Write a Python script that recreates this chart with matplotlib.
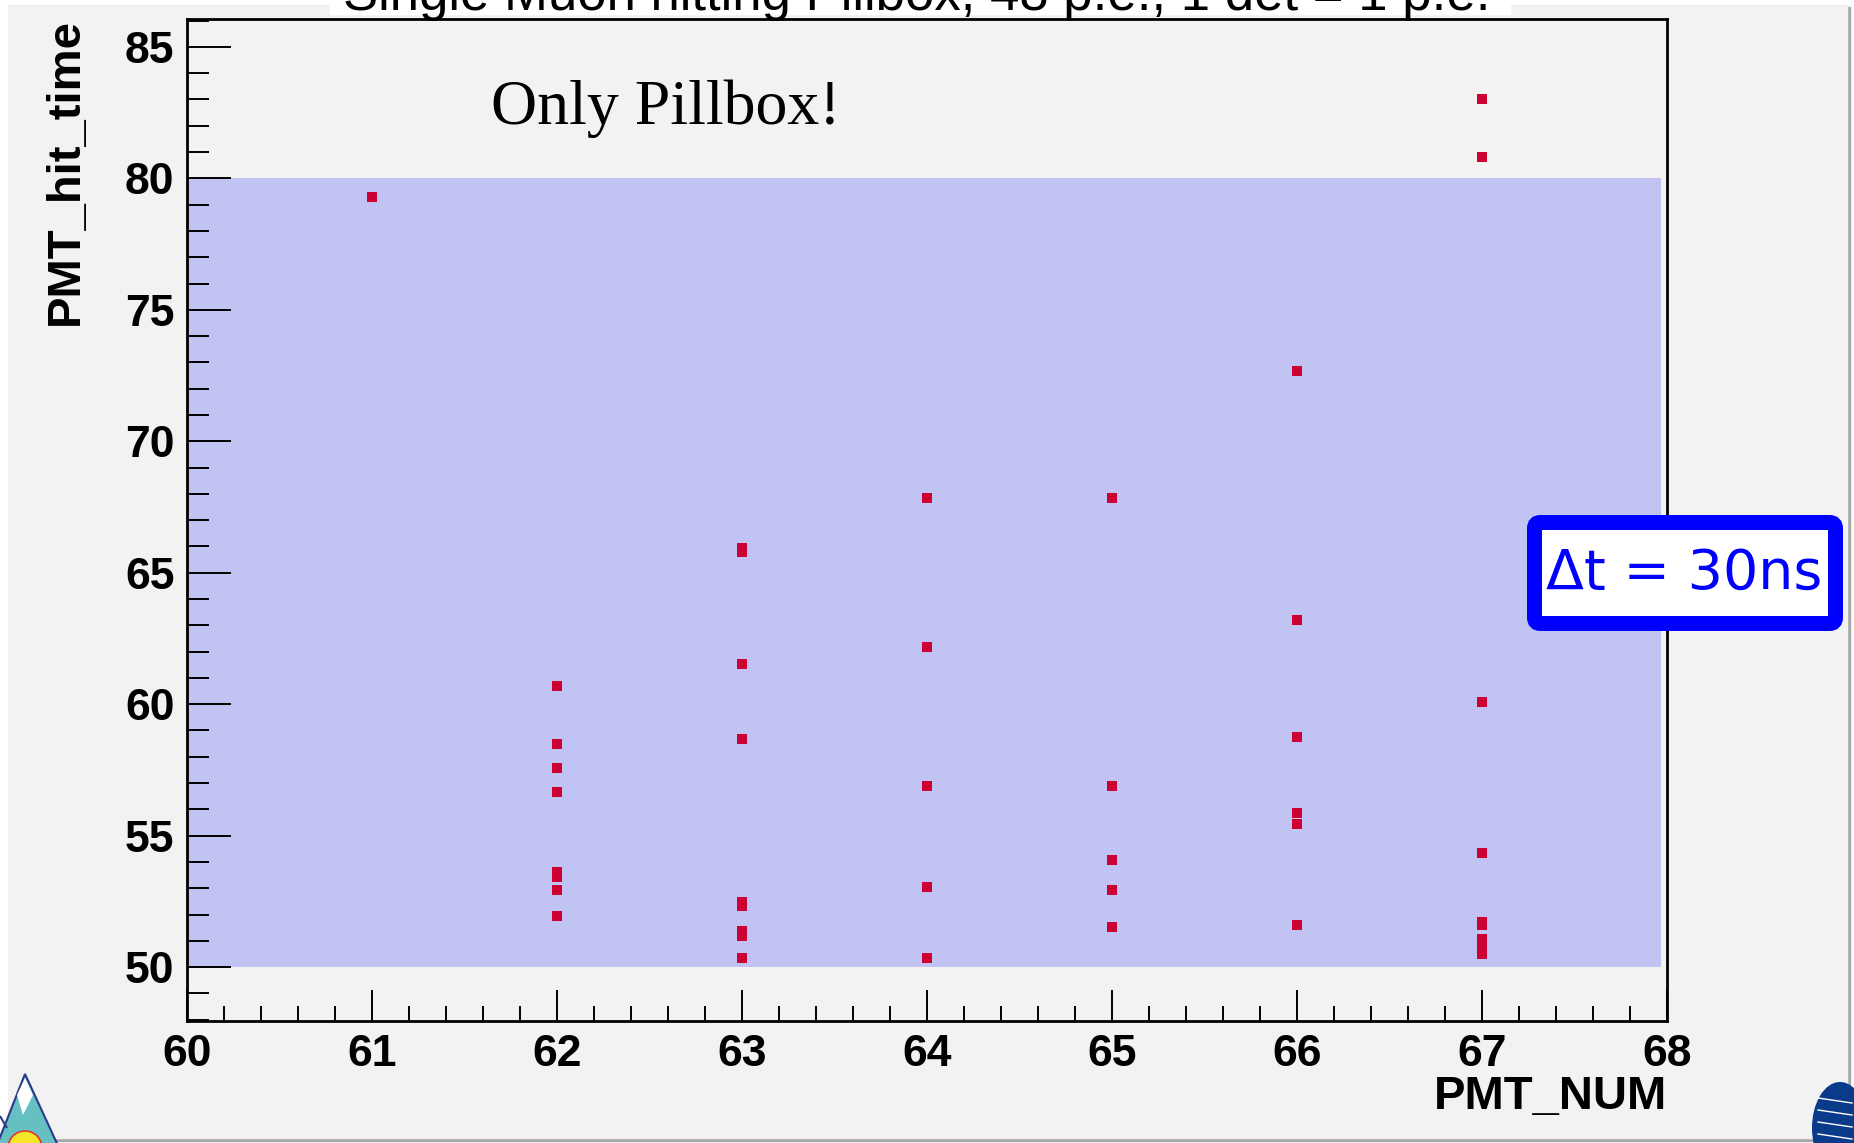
import matplotlib
matplotlib.use("Agg")
import matplotlib.pyplot as plt
from matplotlib.patches import Rectangle, FancyBboxPatch, Polygon, Circle, Ellipse
from matplotlib.ticker import MultipleLocator

# hits
pmt_num = [61,
           62, 62, 62, 62, 62, 62, 62, 62,
           63, 63, 63, 63, 63, 63, 63, 63, 63,
           64, 64, 64, 64, 64,
           65, 65, 65, 65, 65,
           66, 66, 66, 66, 66, 66,
           67, 67, 67, 67, 67, 67, 67, 67, 67, 67]
hit_time = [79.29,
            60.70, 58.48, 57.58, 56.67, 53.60, 53.42, 52.94, 51.94,
            65.95, 65.80, 61.52, 58.69, 52.48, 52.34, 51.36, 51.20, 50.33,
            67.86, 62.19, 56.88, 53.05, 50.33,
            67.86, 56.88, 54.06, 52.95, 51.54,
            72.67, 63.20, 58.77, 55.86, 55.44, 51.61,
            83.02, 80.82, 60.07, 54.33, 51.72, 51.60, 51.05, 50.85, 50.65, 50.50]

window_x = [60, 67.97]
window_y = [50, 80]

title = "Single Muon hitting Pillbox, 48 p.e., 1 det = 1 p.e."
note = "Only Pillbox!"
dt_label = "\u0394t = 30ns"

W, H = 1854, 1143
fig = plt.figure(figsize=(W / 100, H / 100), dpi=100)
fig.patch.set_facecolor("white")

# canvas behind the frame (pixel coords)
bg = fig.add_axes([0, 0, 1, 1], zorder=0)
bg.set_xlim(0, W)
bg.set_ylim(H, 0)
bg.axis("off")
bg.add_patch(Rectangle((10, 7), 1840, 1134, color="#a8a8a8"))
bg.add_patch(Rectangle((8, 5), 1839, 1133, color="#f2f2f2"))
bg.add_patch(Rectangle((330, 0), 1180, 14, color="white"))

# main frame
L, R, T, B = 187, 1667, 19, 1021
ax = fig.add_axes([L / W, (H - B) / H, (R - L) / W, (B - T) / H], zorder=1)
ax.set_facecolor("#f2f2f2")
ax.fill_between(window_x, window_y[0], window_y[1], color="#c1c3f3", lw=0, zorder=1)
ax.plot(pmt_num, hit_time, ls="none", marker="s", ms=6.5, mew=0,
        color="#cc0033", zorder=3)

ax.set_xlim(60, 68)
ax.set_ylim(47.95, 86.06)
ax.xaxis.set_major_locator(MultipleLocator(1))
ax.xaxis.set_minor_locator(MultipleLocator(0.2))
ax.yaxis.set_major_locator(MultipleLocator(5))
ax.yaxis.set_minor_locator(MultipleLocator(1))
ax.tick_params(axis="both", which="both", direction="in", width=1.4,
               color="black", top=False, right=False)
ax.tick_params(axis="y", which="major", length=32, pad=9)
ax.tick_params(axis="y", which="minor", length=16)
ax.tick_params(axis="x", which="major", length=22, pad=9)
ax.tick_params(axis="x", which="minor", length=11)
for lab in ax.get_xticklabels() + ax.get_yticklabels():
    lab.set_fontfamily("Liberation Sans")
    lab.set_fontweight("bold")
    lab.set_fontsize(32)
for sp in ax.spines.values():
    sp.set_linewidth(2)
    sp.set_zorder(4)

# overlay: titles, labels, annotation box, logos
ov = fig.add_axes([0, 0, 1, 1], zorder=2)
ov.set_xlim(0, W)
ov.set_ylim(H, 0)
ov.axis("off")
ov.patch.set_alpha(0)

# the title is cut by the top edge, as in the original slide
ov.text(917, 10, title, ha="center", va="baseline", fontsize=38,
        family="Liberation Sans")
ov.text(66, 18, "PMT_hit_time", rotation=90, ha="center", va="top",
        fontsize=34, fontweight="bold", family="Liberation Sans")
ov.text(1667, 1097, "PMT_NUM", ha="right", va="center",
        fontsize=34, fontweight="bold", family="Liberation Sans")
ov.text(491, 109, note, ha="left", va="center", fontsize=46,
        family="Liberation Serif")

ov.add_patch(FancyBboxPatch((1534.5, 522.5), 301, 101,
                            boxstyle="round,pad=0,rounding_size=6",
                            fc="white", ec="#0000ff", lw=10.8))
ov.text(1684, 574, dt_label, ha="center", va="center", fontsize=40,
        color="#0000ff", family="DejaVu Sans")

# bottom-left logo (rough)
ov.add_patch(Polygon([[-5, 1150], [25, 1074], [60, 1150]], closed=True,
                     fc="#66bfc0", ec="#2a3a8a", lw=1.5))
ov.add_patch(Polygon([[17, 1095], [25, 1078], [33, 1095], [23, 1115]],
                     closed=True, fc="white", ec="none"))
ov.add_patch(Polygon([[0, 1116], [7, 1128]], closed=False, fill=False,
                     ec="#2a3a8a", lw=1.5))
ov.add_patch(Circle((25, 1148), 17, fc="#f5e62a", ec="#e03a2a", lw=1.2))

# bottom-right logo (rough)
ov.add_patch(Ellipse((1840, 1128), 56, 92, fc="#0a3a8a", ec="none"))
for yy in (1098, 1110, 1122, 1134):
    ov.plot([1818, 1852], [yy, yy + 5], color="white", lw=1)

fig.savefig("out.png", dpi=100)
